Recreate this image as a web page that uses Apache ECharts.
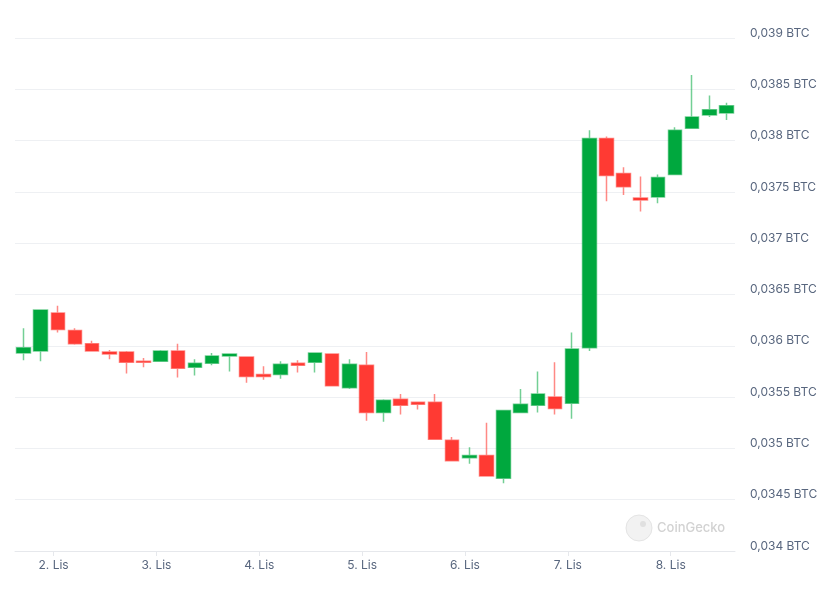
<!DOCTYPE html>
<html>
<head>
<meta charset="utf-8">
<script src="https://cdn.jsdelivr.net/npm/echarts@6/dist/echarts.min.js"></script>
<style>
html,body{margin:0;padding:0;background:#fff;}
#c{width:836px;height:590px;}
</style>
</head>
<body>
<div id="c"></div>
<script>
// Hours since 1. Lis 00:00 (local time) for each 4h candle
const hours = [17,21,25,29,33,37,41,45,49,53,57,61,65,69,73,77,81,85,89,93,97,101,105,109,113,117,121,125,129,133,137,141,145,149,153,157,161,165,169,173,177,181];
const opens  = [0.03593,0.03595,0.03632,0.03615,0.03602,0.03594,0.03594,0.03585,0.03585,0.03595,0.03579,0.03583,0.03590,0.03589,0.03572,0.03572,0.03583,0.03584,0.03592,0.03559,0.03581,0.03535,0.03548,0.03545,0.03545,0.03508,0.03491,0.03493,0.03471,0.03535,0.03542,0.03550,0.03544,0.03598,0.03802,0.03768,0.03744,0.03745,0.03767,0.03812,0.03825,0.03827];
const closes = [0.03598,0.03635,0.03616,0.03602,0.03595,0.03592,0.03584,0.03584,0.03595,0.03578,0.03583,0.03590,0.03592,0.03570,0.03570,0.03582,0.03581,0.03593,0.03561,0.03582,0.03535,0.03547,0.03542,0.03543,0.03509,0.03488,0.03493,0.03473,0.03537,0.03543,0.03553,0.03539,0.03597,0.03802,0.03766,0.03755,0.03742,0.03764,0.03810,0.03823,0.03830,0.03834];
const lows   = [0.03586,0.03585,0.03613,0.03601,0.03595,0.03587,0.03573,0.03579,0.03585,0.03569,0.03571,0.03581,0.03575,0.03564,0.03567,0.03568,0.03574,0.03574,0.03561,0.03558,0.03527,0.03526,0.03533,0.03538,0.03509,0.03488,0.03485,0.03473,0.03466,0.03535,0.03535,0.03533,0.03529,0.03595,0.03741,0.03747,0.03731,0.03739,0.03767,0.03812,0.03823,0.03820];
const highs  = [0.03617,0.03635,0.03639,0.03617,0.03605,0.03596,0.03595,0.03588,0.03596,0.03602,0.03587,0.03593,0.03592,0.03589,0.03580,0.03585,0.03586,0.03593,0.03592,0.03587,0.03594,0.03548,0.03553,0.03545,0.03553,0.03511,0.03501,0.03525,0.03537,0.03558,0.03575,0.03584,0.03613,0.03810,0.03804,0.03774,0.03765,0.03767,0.03813,0.03864,0.03844,0.03837];
const dayTicks  = [24,48,72,96,120,144,168];
const dayLabels = ['2. Lis','3. Lis','4. Lis','5. Lis','6. Lis','7. Lis','8. Lis'];
const xRange = [15,183];
const yRange = [0.034,0.039];
const yStep = 0.0005;

const data = hours.map((h,i)=>[h,opens[i],closes[i],lows[i],highs[i]]);
const chart = echarts.init(document.getElementById('c'), null, {renderer:'canvas'});
const labelColor = '#58667e';
chart.setOption({
  animation:false,
  backgroundColor:'#ffffff',
  textStyle:{fontFamily:'Inter, "Noto Sans", sans-serif'},
  grid:{left:15,right:101,top:38,bottom:39,containLabel:false},
  xAxis:{
    type:'value', min:xRange[0], max:xRange[1],
    axisLine:{show:true,lineStyle:{color:'#e6e8ec',width:1}},
    axisTick:{show:true,customValues:dayTicks,length:5,lineStyle:{color:'#e6e8ec'}},
    axisLabel:{customValues:dayTicks,color:labelColor,fontSize:12,margin:8,
      formatter:v=>dayLabels[dayTicks.indexOf(v)] || ''},
    splitLine:{show:false}
  },
  yAxis:{
    type:'value', position:'right', min:yRange[0], max:yRange[1], interval:yStep,
    axisLine:{show:false}, axisTick:{show:false},
    axisLabel:{color:labelColor,fontSize:12,margin:15,verticalAlign:'bottom',lineHeight:10,
      formatter:v=>parseFloat(v.toFixed(5)).toString().replace('.',',')+' BTC'},
    splitLine:{show:true,lineStyle:{color:'#eef0f3',width:1}}
  },
  graphic:[
    {type:'circle',shape:{cx:639,cy:528,r:13},style:{fill:'#f2f2f2',stroke:'#e4e4e4',lineWidth:1},z:0},
    {type:'circle',shape:{cx:643,cy:524,r:3},style:{fill:'#e0e0e0'},z:0},
    {type:'text',x:657,y:528,style:{text:'CoinGecko',fill:'#d2d2d2',fontSize:13,fontWeight:500,fontFamily:'Inter, sans-serif',verticalAlign:'middle'},z:0}
  ],
  series:[{
    type:'candlestick',
    data:data,
    encode:{x:0,y:[1,2,3,4]},
    barWidth:14,
    itemStyle:{
      color:'#00a83e', color0:'#ff3a33',
      borderColor:'rgba(0,168,62,0.55)', borderColor0:'rgba(255,58,51,0.6)',
      borderWidth:1.5
    }
  }]
});
</script>
</body>
</html>
